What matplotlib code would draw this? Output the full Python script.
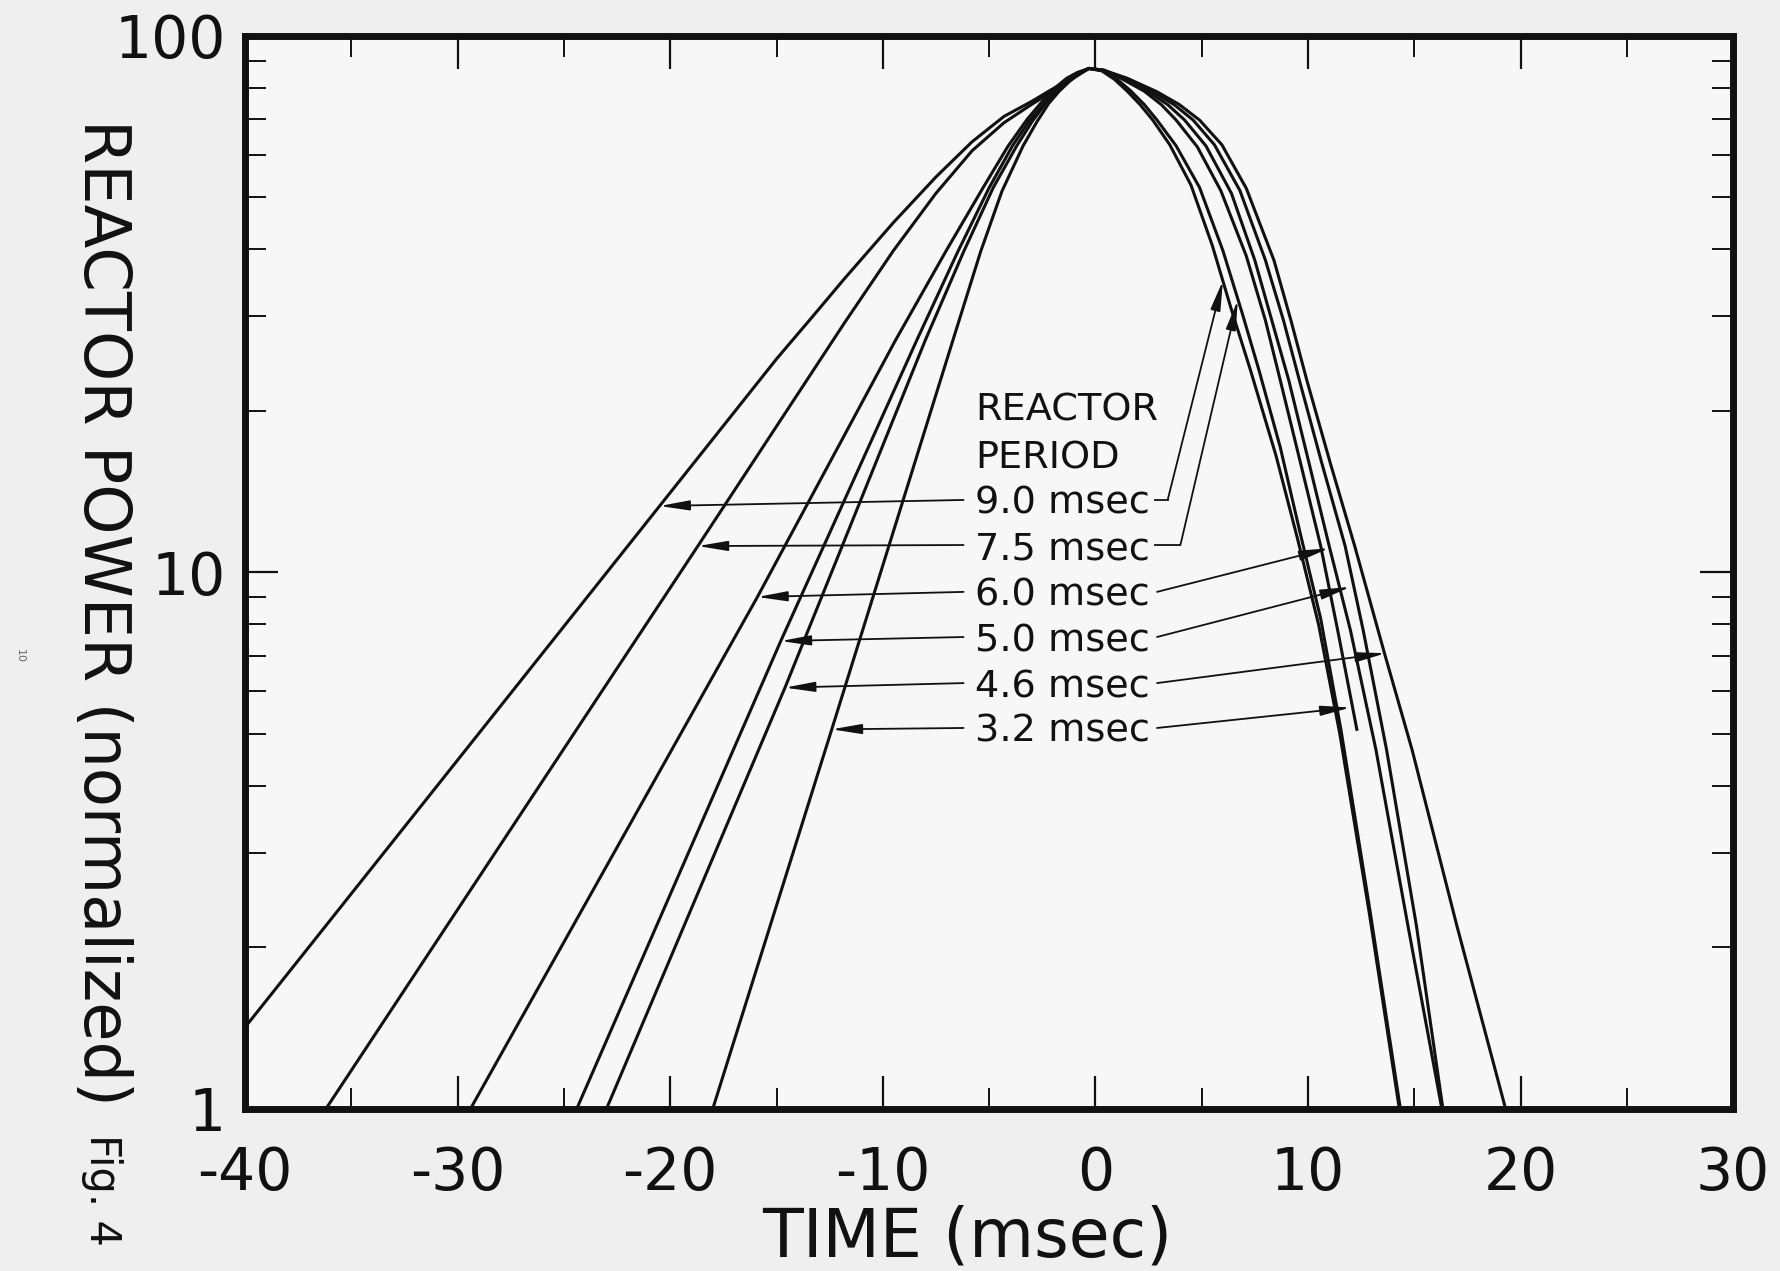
import matplotlib
matplotlib.use("Agg")
import matplotlib.pyplot as plt
from matplotlib.ticker import NullFormatter, FixedLocator

# curves: time (msec) and normalized power, rise then fall
t_90 = [-40, -30, -20.5, -15, -13.3, -11.8, -9.5, -7.5, -5.8, -4.3, -3.0, -2.1, -1.4, -0.85, -0.3,
        0.3, 0.9, 1.5, 2.1, 2.7, 3.5, 4.5, 5.5, 6.4, 7.3, 8.5, 9.5, 10.5, 11.5, 12.9, 14.3]
p_90 = [1.42, 4.47, 13.3, 25.0, 30.0, 35.3, 44.9, 54.6, 63.5, 70.8, 75.5, 79.3, 82.2, 84.7, 87,
        86.1, 83.0, 78.9, 74.5, 69.7, 62.7, 52.7, 40.7, 30.9, 23.8, 16.5, 11.6, 8.0, 5.0, 2.3, 1]

t_75 = [-36.2, -18.7, -11.8, -9.5, -7.5, -5.8, -4.3, -3.1, -2.1, -1.4, -0.85, -0.3,
        0.35, 1.0, 1.65, 2.3, 2.9, 3.8, 4.9, 6.0, 6.9, 7.7, 8.7, 9.6, 10.6, 11.55, 12.95, 14.35]
p_75 = [1, 11.2, 29.2, 39.8, 50.9, 61.1, 68.9, 74.1, 78.5, 81.7, 84.3, 87,
        86.1, 83.2, 79.1, 74.5, 69.7, 62.4, 52.2, 39.8, 30.5, 23.8, 17.1, 12.0, 8.2, 5.1, 2.3, 1]

t_60 = [-29.4, -15.9, -9.4, -7.0, -5.3, -4.1, -3.2, -2.5, -1.9, -1.35, -0.85, -0.3,
        0.4, 1.3, 2.5, 3.4, 4.2, 5.2, 6.4, 7.5, 8.3, 9.1, 10.05, 11.0, 12.0, 13.2, 14.7, 16.3]
p_60 = [1, 9.0, 27.1, 39.9, 52.0, 62.4, 70.0, 75.5, 80.0, 83.4, 85.5, 87,
        86.3, 83.4, 78.7, 74.5, 69.7, 62.4, 50.9, 38.2, 29.5, 22.8, 16.0, 11.2, 7.8, 4.67, 2.2, 1]

t_50 = [-24.4, -14.8, -8.4, -6.5, -5.0, -3.9, -3.1, -2.4, -1.85, -1.3, -0.8, -0.3,
        0.4, 1.4, 2.7, 3.7, 4.6, 5.6, 6.8, 8.0, 8.85, 9.6, 10.65, 11.75, 12.6, 13.7, 15.1, 16.35]
p_50 = [1, 7.45, 27.1, 39.4, 52.1, 62.4, 69.5, 75.0, 79.1, 82.6, 85.1, 87,
        86.3, 83.4, 78.7, 74.5, 69.7, 62.7, 51.5, 38.2, 29.5, 22.8, 16.0, 11.2, 7.8, 4.67, 2.2, 1]

t_46 = [-23.0, -14.6, -8.0, -6.2, -4.8, -3.7, -2.95, -2.3, -1.8, -1.25, -0.8, -0.3,
        0.4, 1.5, 2.9, 3.95, 4.9, 5.95, 7.1, 8.4, 9.2, 9.95, 11.05, 12.2, 13.6, 14.9, 17.0, 19.3]
p_46 = [1, 6.1, 27.1, 39.6, 52.2, 62.4, 69.5, 75.2, 79.1, 82.6, 85.1, 87,
        86.3, 83.4, 78.7, 74.5, 69.7, 62.7, 52.0, 38.2, 29.5, 22.8, 16.0, 11.2, 7.07, 4.67, 2.2, 1]

t_32 = [-18.0, -12.4, -6.7, -5.4, -4.4, -3.4, -2.75, -2.2, -1.7, -1.2, -0.75, -0.3,
        0.4, 1.2, 2.3, 3.1, 3.8, 4.8, 5.9, 7.1, 8.0, 8.7, 9.65, 10.6, 11.4, 12.3]
p_32 = [1, 5.1, 27.1, 39.6, 51.3, 62.4, 69.2, 74.8, 78.9, 82.4, 85.1, 87,
        86.3, 83.4, 78.9, 74.5, 69.7, 62.1, 51.5, 38.9, 29.5, 22.8, 16.0, 11.2, 7.8, 5.1]

labels = ['9.0 msec', '7.5 msec', '6.0 msec', '5.0 msec', '4.6 msec', '3.2 msec']
label_p = [13.65, 11.25, 9.2, 7.58, 6.22, 5.13]
left_tip_t = [-20.5, -18.7, -15.9, -14.8, -14.6, -12.4]
left_tip_p = [13.3, 11.2, 9.0, 7.45, 6.1, 5.1]
right_tip_t = [6.0, 6.7, 11.0, 12.0, 13.65, 12.0]
right_tip_p = [35.0, 32.2, 11.1, 9.4, 7.07, 5.6]

xticks = [-40, -30, -20, -10, 0, 10, 20, 30]
xticklabels = ['-40', '-30', '-20', '-10', '0', '10', '20', '30']
yticks = [1, 10, 100]
yticklabels = ['1', '10', '100']

fig = plt.figure(figsize=(17.81, 12.71), dpi=100, facecolor='#efefef')
ax = fig.add_axes([0.1376, 0.1275, 0.8355, 0.8442])
ax.set_facecolor('#f7f7f7')

for t, p in [(t_90, p_90), (t_75, p_75), (t_60, p_60),
             (t_50, p_50), (t_46, p_46), (t_32, p_32)]:
    ax.plot(t, p, color='#111111', lw=2.2, solid_joinstyle='round')

ax.set_yscale('log')
ax.set_xlim(-40, 30)
ax.set_ylim(1, 100)

ax.set_xticks(xticks)
ax.set_xticklabels(xticklabels)
ax.set_xticks([-35, -25, -15, -5, 5, 15, 25], minor=True)
ax.yaxis.set_major_locator(FixedLocator(yticks))
ax.set_yticklabels(yticklabels)
ax.yaxis.set_minor_formatter(NullFormatter())

ax.tick_params(which='major', direction='in', length=24, width=1.6,
               top=True, right=True, labelsize=42, colors='#111111')
ax.tick_params(axis='x', which='major', pad=26)
ax.tick_params(axis='y', which='major', pad=14)
ax.tick_params(which='minor', direction='in', length=15, width=1.4,
               top=True, right=True, colors='#111111')
for s in ax.spines.values():
    s.set_linewidth(5)
    s.set_color('#111111')

# annotation block
txt = dict(fontsize=27.5, color='#111111', va='center_baseline', ha='left')
ax.text(-5.65, 20.4, 'REACTOR', **txt)
ax.text(-5.65, 16.6, 'PERIOD', **txt)
arrow = dict(arrowstyle='-|>,head_length=0.9,head_width=0.15', color='#111111',
             lw=1.3, shrinkA=0, shrinkB=0, mutation_scale=20)
for i, lab in enumerate(labels):
    ax.text(-5.65, label_p[i], lab, **txt)
    ax.annotate('', xy=(left_tip_t[i], left_tip_p[i]), xytext=(-6.2, label_p[i]),
                arrowprops=arrow)
    if i < 2:
        bend = 3.4 if i == 0 else 4.0
        ax.plot([2.8, bend], [label_p[i], label_p[i]], color='#111111', lw=1.3)
        ax.annotate('', xy=(right_tip_t[i], right_tip_p[i]), xytext=(bend, label_p[i]),
                    arrowprops=arrow)
    else:
        ax.annotate('', xy=(right_tip_t[i], right_tip_p[i]), xytext=(2.9, label_p[i]),
                    arrowprops=arrow)

fig.text(0.543, 0.026, 'TIME (msec)', fontsize=48, ha='center', va='center',
         color='#111111')
fig.text(0.0573, 0.518, 'REACTOR POWER (normalized)', fontsize=46, rotation=270,
         ha='center', va='center', color='#111111')
fig.text(0.0573, 0.064, 'Fig. 4', fontsize=30, rotation=270,
         ha='center', va='center', color='#111111')
fig.text(0.011, 0.484, '10', fontsize=8, rotation=270, ha='center', va='center',
         color='#666666')

fig.savefig('out.png', dpi=100, facecolor=fig.get_facecolor())
